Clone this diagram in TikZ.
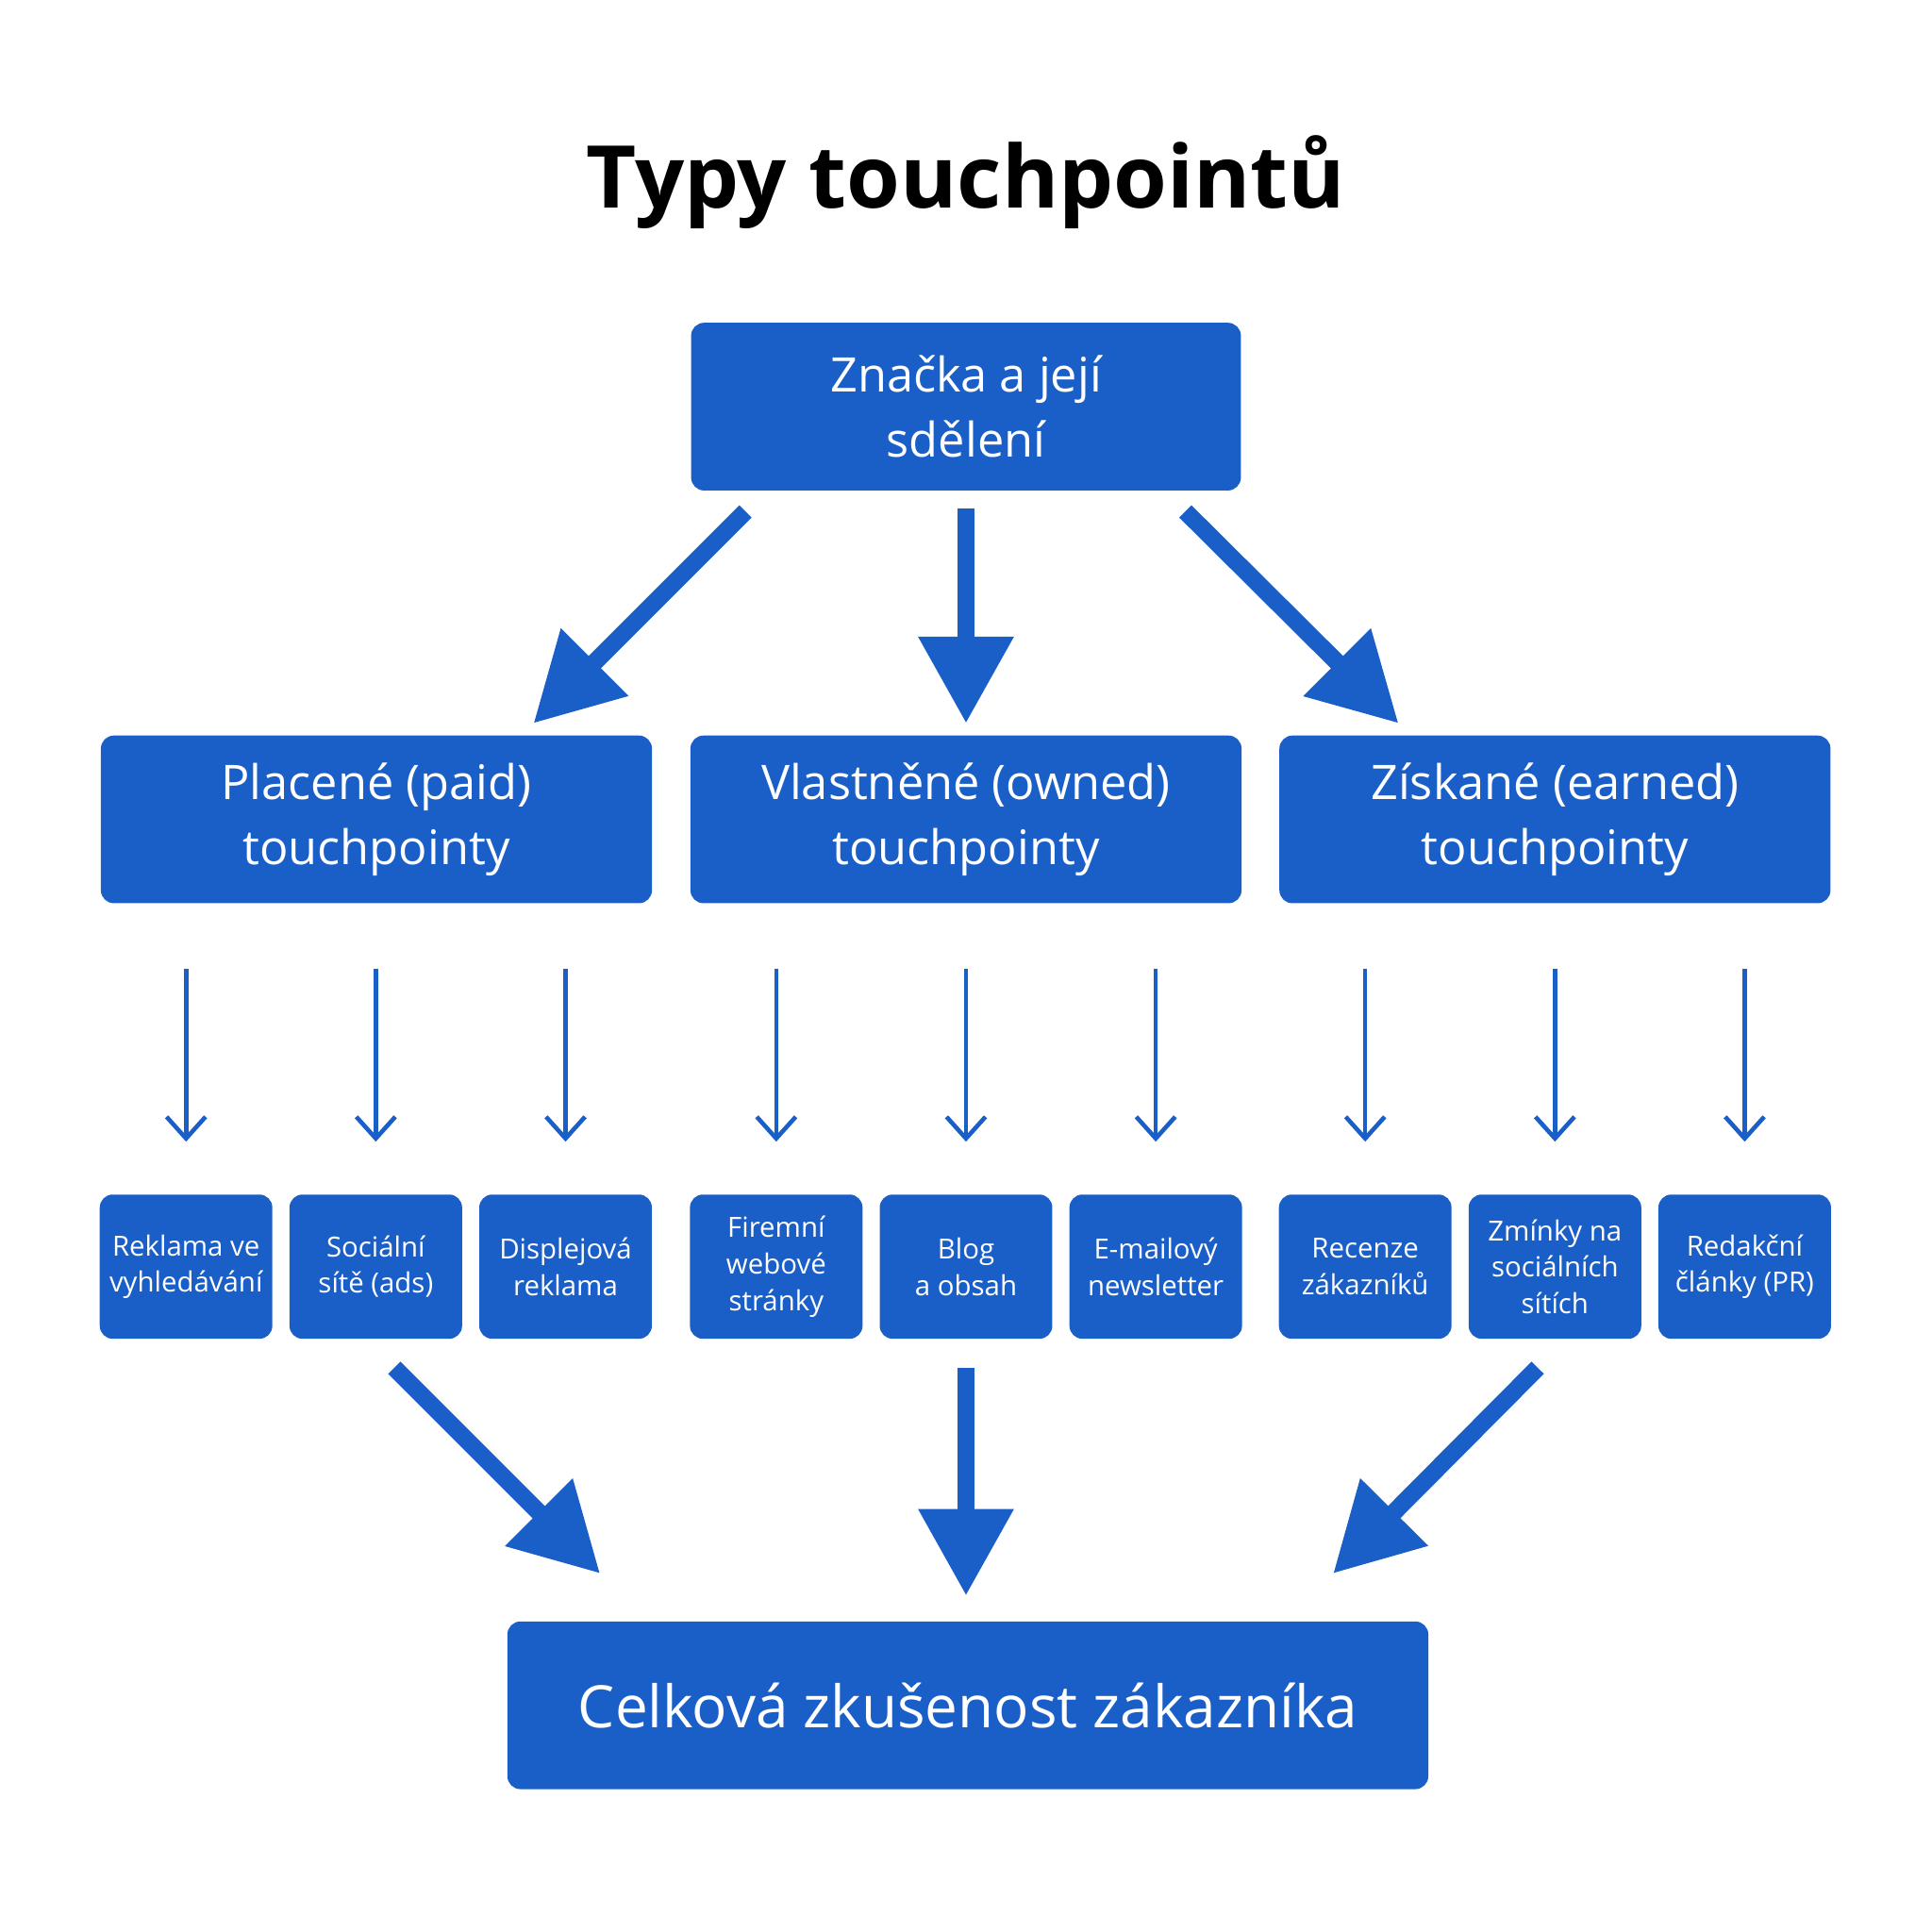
\documentclass[tikz,border=0pt]{standalone}
\usepackage{fontspec}
\setmainfont{Open Sans}
\usetikzlibrary{arrows.meta}
\definecolor{boxblue}{HTML}{1A5FC8}

\begin{document}
\begin{tikzpicture}[x=0.01cm, y=-0.01cm,
  box/.style = {fill=boxblue, rounded corners=3pt, text=white, align=center, inner sep=0pt},
  big/.style = {box, minimum width=4.47cm, minimum height=1.36cm, font=\fontsize{11}{15}\selectfont},
  small/.style = {box, minimum width=1.40cm, minimum height=1.17cm, font=\fontsize{6.4}{8.4}\selectfont},
  thick arrow/.style = {draw=boxblue, line width=4pt, -{Triangle[width=21pt,length=20pt]}},
  thin arrow/.style = {draw=boxblue, line width=1pt, -{Straight Barb[width=9pt,length=5pt]},
    shorten <=15\pgflinewidth, shorten >=12\pgflinewidth}]
  \useasboundingbox (0, 0) rectangle (1568, 1568);
  \node (T) at (784, 148) {\fontsize{20}{24}\selectfont\bfseries Typy touchpointů};
  \node [big, minimum width=4.46cm] (BR) at (784, 330) {Značka a její\\sdělení};
  \node [big] (PA) at (305.5, 665) {Placené (paid)\\touchpointy};
  \node [big] (OW) at (784, 665) {Vlastněné (owned)\\touchpointy};
  \node [big] (EA) at (1262, 665) {Získané (earned)\\touchpointy};
  \node [small] (P1) at (151, 1028) {Reklama ve\\vyhledávání};
  \node [small] (P2) at (305, 1028) {Sociální\\sítě (ads)};
  \node [small] (P3) at (459, 1028) {Displejová\\reklama};
  \node [small] (O1) at (630, 1028) {Firemní\\webové\\stránky};
  \node [small] (O2) at (784, 1028) {Blog\\a obsah};
  \node [small] (O3) at (938, 1028) {E-mailový\\newsletter};
  \node [small] (E1) at (1108, 1028) {Recenze\\zákazníků};
  \node [small] (E2) at (1262, 1028) {Zmínky na\\sociálních\\sítích};
  \node [small] (E3) at (1416, 1028) {Redakční\\články (PR)};
  \node [big, minimum width=7.47cm, font=\fontsize{13.5}{16}\selectfont] (CX) at (785.5, 1384) {Celková zkušenost zákazníka};
  \coordinate (BRl) at (605, 415);
  \coordinate (BRm) at (784, 413);
  \coordinate (BRr) at (962, 415);
  \coordinate (PAt) at (433, 587);
  \coordinate (OWt) at (784, 587);
  \coordinate (EAt) at (1135, 587);
  \coordinate (Pb) at (320, 1110);
  \coordinate (Ob) at (784, 1110);
  \coordinate (Eb) at (1248, 1110);
  \coordinate (CXl) at (487, 1277);
  \coordinate (CXm) at (784, 1295);
  \coordinate (CXr) at (1082, 1277);
  \draw [thick arrow] (BRl) -- (PAt);
  \draw [thick arrow] (BRm) -- (OWt);
  \draw [thick arrow] (BRr) -- (EAt);
  \draw [thick arrow] (Pb) -- (CXl);
  \draw [thick arrow] (Ob) -- (CXm);
  \draw [thick arrow] (Eb) -- (CXr);
  \foreach \s/\c in {PA/P1, PA/P2, PA/P3, OW/O1, OW/O2, OW/O3, EA/E1, EA/E2, EA/E3}
    \draw [thin arrow] (\c |- \s.south) -- (\c.north);
\end{tikzpicture}
\end{document}
